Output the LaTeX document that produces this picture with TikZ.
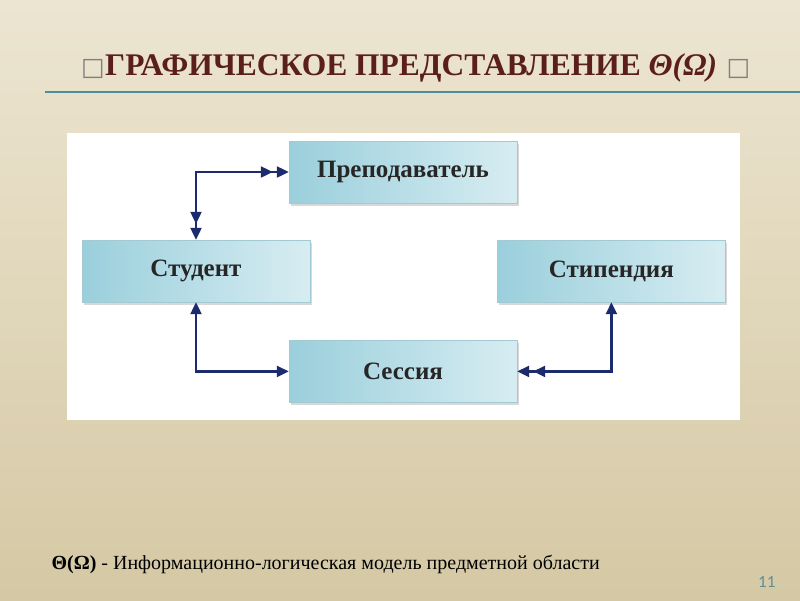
\documentclass[tikz,border=0pt]{standalone}
\usepackage{fontspec}
\setmainfont{Liberation Serif}
\newfontfamily\symfont{DejaVu Sans}
\newfontfamily\numfont{Carlito}
\usetikzlibrary{arrows.meta,positioning,shadows}

\definecolor{titlebrown}{HTML}{5A1F1B}
\definecolor{ruleteal}{HTML}{4B8F9B}
\definecolor{arrownavy}{HTML}{1C2B6E}
\definecolor{boxdark}{HTML}{9ACFDC}
\definecolor{boxlight}{HTML}{E6F4F7}
\definecolor{boxedge}{HTML}{A3C9D3}
\definecolor{bgtop}{HTML}{ECE5D1}
\definecolor{bgbot}{HTML}{D5C8A4}
\definecolor{pagenum}{HTML}{5E8F99}

\tikzset{
  entity/.style={draw=boxedge, thin, minimum width=228pt, minimum height=62pt,
    left color=boxdark, middle color=boxlight, right color=boxlight!80!boxdark,
    drop shadow={shadow xshift=2pt, shadow yshift=-3pt, fill=black!30},
    font=\bfseries\fontsize{25}{29}\selectfont, text=black!85},
  link/.style={draw=arrownavy, line width=2.2pt},
  tri/.tip={Triangle[length=12pt, width=11pt]},
  tritri/.tip={Triangle[length=12pt, width=11pt, sep=4pt] Triangle[length=12pt, width=11pt]},
  sq/.style={font=\symfont\mdseries\fontsize{25}{28}\selectfont, text=black!50}
}

\begin{document}
\begin{tikzpicture}[x=1pt, y=-1pt]
    \useasboundingbox (0,0) rectangle (800,600);
    \shade[top color=bgtop, bottom color=bgbot] (0,0) rectangle (800,600);

    \node[anchor=base west, inner sep=0pt, sq] (sqa) at (81,75) {□};
    \node[anchor=base west, inner sep=0pt, text=titlebrown, font=\bfseries\fontsize{31.5}{36}\selectfont]
        (title) at (sqa.base east) {ГРАФИЧЕСКОЕ ПРЕДСТАВЛЕНИЕ \textit{Θ(Ω)}};
    \node[inner sep=0pt, sq] (sqb) [right=9pt of title.base east, anchor=base west] {□};
    \draw[ruleteal, line width=2pt] (45,92) -- (800,92);

    \fill[white] (67,133) rectangle (740,420);

    \node[entity]  (stud) at (196,271)          {Студент};
    \node[entity]  (stip) [right=187pt of stud] {Стипендия};
    \node[entity]  (prep) at (403,172)          {Преподаватель};
    \node[entity]  (sess) [below=137pt of prep] {Сессия};

    \path[link, {tritri}-{tritri}] (prep.west) -| (stud.north);
    \path[link, {tri}-{tri}]       (stud.south) |- (sess.west);
    \path[link, {tritri}-{tri}]    (sess.east) -| (stip.south);

    \node[anchor=base west, font=\fontsize{20}{24}\selectfont] (caption) at (48,569)
        {\textbf{Θ(Ω)} - Информационно-логическая модель предметной области};
    \node[anchor=base east, text=pagenum, font=\numfont\fontsize{17}{20}\selectfont] (page) at (779,587) {11};
\end{tikzpicture}
\end{document}
